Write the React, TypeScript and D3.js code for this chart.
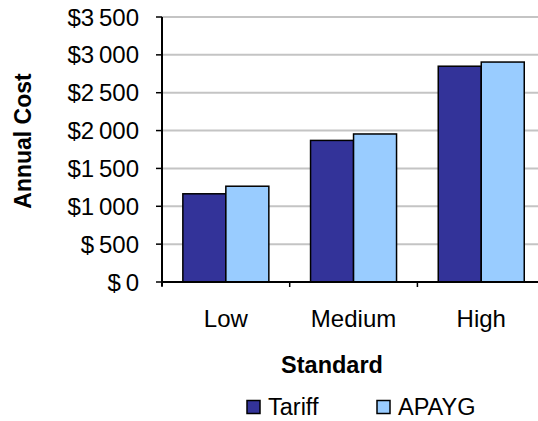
import React from "react";
import * as d3 from "d3";

const categories = ["Low", "Medium", "High"];
const seriesNames = ["Tariff", "APAYG"];
const tariffValues = [1165, 1870, 2850];
const apaygValues = [1265, 1955, 2905];
const yTicks = [0, 500, 1000, 1500, 2000, 2500, 3000, 3500];
const seriesColors = ["#333399", "#99CCFF"];

const W = 538;
const H = 421;
const FONT = "'Liberation Sans', Arial, sans-serif";

function fmt(v: number): string {
  const th = Math.floor(v / 1000);
  const rest = v % 1000;
  if (th > 0) return `$${th}\u2009${String(rest).padStart(3, "0")}`;
  return `$\u2009${rest}`;
}

export default function App() {
  const plotLeft = 162;
  const band = 127.7;
  const x = d3.scaleBand<string>().domain(categories).range([plotLeft, plotLeft + band * categories.length]).padding(0);
  const xs = d3.scaleBand<string>().domain(seriesNames).range([0, x.bandwidth()]).paddingInner(0).paddingOuter(0.485);
  const y = d3.scaleLinear().domain([0, 3500]).range([282, 17]);
  const data = [tariffValues, apaygValues];
  const plotRight = plotLeft + band * categories.length;

  return (
    <svg width={W} height={H} style={{ position: "absolute", left: 0, top: 0, background: "#fff" }} fontFamily={FONT}>
      {yTicks.filter((t) => t > 0).map((t) => (
        <line key={"g" + t} x1={plotLeft} x2={plotRight} y1={y(t)} y2={y(t)} stroke="#c4c4c4" strokeWidth={2} />
      ))}
      {categories.map((c, i) =>
        seriesNames.map((s, j) => (
          <rect
            key={c + s}
            x={(x(c) as number) + (xs(s) as number)}
            y={y(data[j][i])}
            width={xs.bandwidth()}
            height={y(0) - y(data[j][i])}
            fill={seriesColors[j]}
            stroke="#000"
            strokeWidth={1.5}
          />
        ))
      )}
      <line x1={plotLeft} x2={plotLeft} y1={y(3500)} y2={y(0) + 4} stroke="#000" strokeWidth={2} />
      {yTicks.map((t) => (
        <g key={"t" + t}>
          <line x1={plotLeft - 6} x2={plotLeft} y1={y(t)} y2={y(t)} stroke="#000" strokeWidth={1.5} />
          <text x={139} y={y(t)} dy="0.36em" textAnchor="end" fontSize={24} fill="#000">
            {fmt(t)}
          </text>
        </g>
      ))}
      <line x1={plotLeft} x2={plotRight} y1={y(0)} y2={y(0)} stroke="#000" strokeWidth={2} />
      {categories.map((c) => (
        <line key={"xt" + c} x1={x(c) as number} x2={x(c) as number} y1={y(0)} y2={y(0) + 5} stroke="#000" strokeWidth={1.5} />
      ))}
      {categories.map((c) => (
        <text key={"xl" + c} x={(x(c) as number) + x.bandwidth() / 2} y={326.5} textAnchor="middle" fontSize={24} fill="#000">
          {c}
        </text>
      ))}
      <text x={332} y={373} textAnchor="middle" fontSize={23.5} fontWeight="bold" fill="#000">
        Standard
      </text>
      <text transform="translate(31,141) rotate(-90)" textAnchor="middle" fontSize={23} fontWeight="bold" fill="#000">
        Annual Cost
      </text>
      {seriesNames.map((s, j) => {
        const lx = j === 0 ? 247 : 377;
        return (
          <g key={"lg" + s}>
            <rect x={lx} y={400.5} width={13} height={13} fill={seriesColors[j]} stroke="#000" strokeWidth={1.5} />
            <text x={lx + 21} y={415} fontSize={23.5} fill="#000">
              {s}
            </text>
          </g>
        );
      })}
    </svg>
  );
}
